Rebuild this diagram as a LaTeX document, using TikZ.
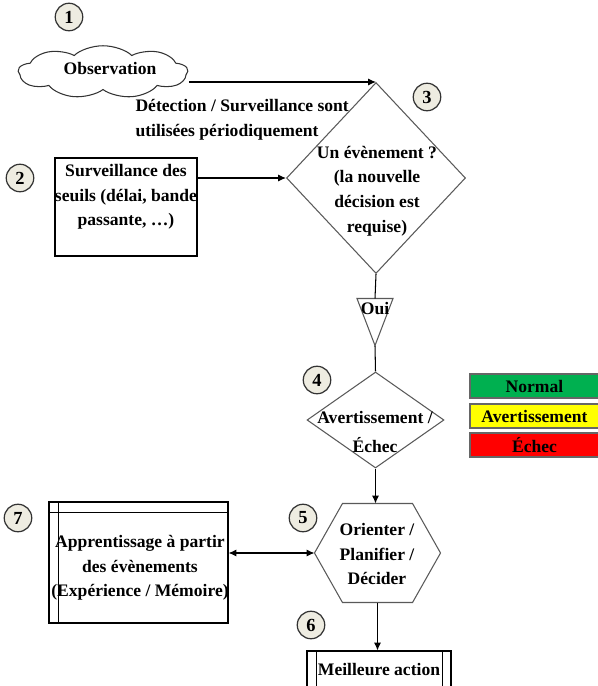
\documentclass[tikz,border=0pt]{standalone}
\usepackage{fontspec}
\setmainfont{Liberation Serif}
\usetikzlibrary{positioning,arrows.meta,shapes.geometric,shapes.symbols,calc}
\definecolor{fond_num}{HTML}{EEECE1}
\definecolor{vert}{HTML}{00B050}
\definecolor{jaune}{HTML}{FFFF00}
\definecolor{rouge}{HTML}{FF0000}
\tikzset{
  txt_n/.style = {align=center, inner sep=0pt,
    font=\fontsize{10}{14}\selectfont\bfseries},
  num_c/.style = {circle, draw=black!80, fill=fond_num, line width=0.7pt,
    minimum size=0.55cm, inner sep=0pt,
    font=\fontsize{10.5}{12}\selectfont\bfseries},% numero d'etape
  boite_r/.style = {rectangle, draw=black, line width=0.6pt, inner sep=0pt},
  los_d/.style = {diamond, draw=black!65, line width=0.6pt, inner sep=0pt},
  legende/.style = {rectangle, draw=black!60, line width=0.8pt,
    minimum width=2.58cm, minimum height=0.48cm, inner sep=0pt,
    font=\fontsize{10}{12}\selectfont\bfseries}
}

\begin{document}
\begin{tikzpicture}[x=0.02cm, y=-0.02cm, line width=0.6pt,
  >={Latex[length=4.5pt,width=4pt]}]
\useasboundingbox (0,0) rectangle (598,686);
% numeros des etapes
\node (n1) [num_c] at (69,17) {1};
\node (n2) [num_c] at (20,178) {2};
\node (n3) [num_c] at (427,97) {3};
\node (n4) [num_c] at (317,380) {4};
\node (n5) [num_c] at (303,518) {5};
\node (n6) [num_c] at (311,625) {6};
\node (n7) [num_c] at (18,518) {7};
% observation
\node (obs) [cloud, cloud puffs=9, cloud puff arc=120, aspect=2,
  draw=black!80, minimum width=2cm, minimum height=1.05cm,
  inner sep=0pt, xscale=1.7] at (103,72) {};
\node (obs_t) [txt_n] at (110,68) {Observation};
\node (det) [txt_n, align=left, anchor=west] at (135,120)
  {Détection / Surveillance sont\\utilisées périodiquement};
% evenement
\node (d3) [los_d, minimum width=3.58cm, minimum height=3.82cm] at (376,178) {};
\node (d3_t) [txt_n] at (377,191)
  {Un évènement ?\\(la nouvelle\\décision est\\requise)};
\node (b2) [boite_r, minimum width=2.84cm, minimum height=1.96cm] at (126,207) {};
\node (b2_t) [txt_n] at (126,197)
  {Surveillance des\\seuils (délai, bande\\passante, …)};
% oui
\node (oui) [minimum width=0.7cm, minimum height=0.92cm, inner sep=0pt] at (375,322) {};
\draw[black!65] (oui.north west) -- (oui.north east) -- (oui.south) -- cycle;
\node (oui_t) [txt_n, below=2pt of oui.north] {Oui};
% avertissement / echec
\node (d4) [los_d, minimum width=2.74cm, minimum height=1.92cm] at (375.5,420) {};
\node (d4_t) [txt_n] at (375,432) {Avertissement /\\[3pt]Échec};
% orienter / planifier / decider
\node (hex) [minimum width=2.5cm, minimum height=1.96cm, inner sep=0pt] at (377.5,553) {};
\draw[black!65] (hex.west) -- ([xshift=0.56cm]hex.north west)
  -- ([xshift=-0.56cm]hex.north east) -- (hex.east)
  -- ([xshift=-0.56cm]hex.south east) -- ([xshift=0.56cm]hex.south west) -- cycle;
\node (hex_t) [txt_n] at (377,554) {Orienter /\\Planifier /\\Décider};
% apprentissage
\node (b7) [boite_r, minimum width=3.58cm, minimum height=2.42cm] at (138.5,562.5) {};
\draw ([xshift=0.2cm]b7.north west) -- ([xshift=0.2cm]b7.south west);
\draw ([yshift=-0.22cm]b7.north west) -- ([yshift=-0.22cm]b7.north east);
\node (b7_t) [txt_n] at (140,568)
  {Apprentissage à partir\\des évènements\\(Expérience / Mémoire)};
% meilleure action
\node (b6) [boite_r, minimum width=2.88cm, minimum height=1.0cm] at (379,676) {};
\draw ([xshift=0.2cm]b6.north west) -- ([xshift=0.2cm]b6.south west);
\draw ([xshift=-0.18cm]b6.north east) -- ([xshift=-0.18cm]b6.south east);
\node (b6_t) [txt_n] at (379,670) {Meilleure action};
% legende
\node (leg_n) [legende, fill=vert] at (534.5,386) {Normal};
\node (leg_a) [legende, fill=jaune] at (534.5,416) {Avertissement};
\node (leg_e) [legende, fill=rouge] at (534.5,445) {Échec};
% liaisons
\draw[->] (obs.east |- d3.north) -- (d3.north);
\draw[->] (b2.east |- d3.west) -- (d3.west);
\draw (d3.south) -- (oui.north);
\draw (oui.south) -- (d4.north);
\draw[->] (d4.south) -- (d4.south |- hex.north);
\draw[->] (hex.south) -- (hex.south |- b6.north);
\draw[<->] (b7.east |- hex.west) -- (hex.west);
\end{tikzpicture}
\end{document}
